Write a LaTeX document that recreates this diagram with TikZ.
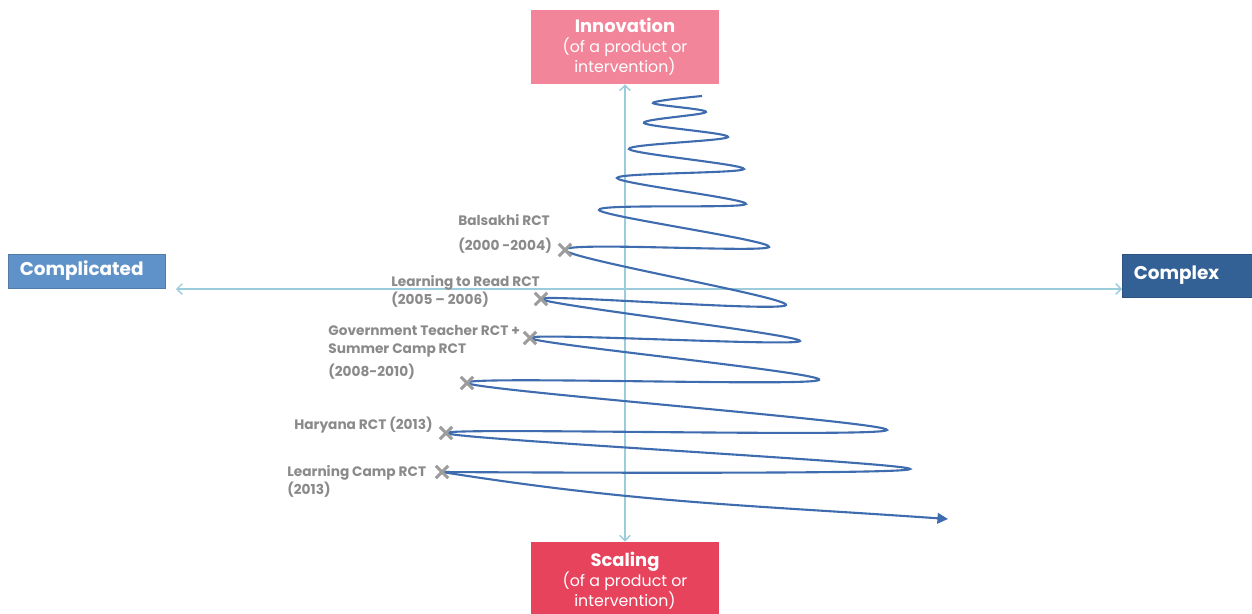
\documentclass[tikz,border=0pt]{standalone}
\usepackage{fontspec}
\setmainfont{Poppins}
\usepackage{tikz}
\usetikzlibrary{arrows.meta,shapes.misc}

\definecolor{innovpink}{HTML}{F2859A}
\definecolor{scalered}{HTML}{E8435D}
\definecolor{cmplblue}{HTML}{5F92C8}
\definecolor{cplxblue}{HTML}{336196}
\definecolor{axisblue}{HTML}{9ACCDB}
\definecolor{spiralblue}{HTML}{3E6CAE}
\definecolor{labelgray}{HTML}{8A8A8A}

\tikzset{
  topbox/.style={fill=#1, text=white, align=center, minimum width=3.78cm, inner sep=0pt,
    font=\fontsize{9}{11.3}\selectfont},
  sidebox/.style={fill=#1, draw=#1!85!black, line width=0.3pt, text=white, align=left,
    font=\bfseries\fontsize{10.5}{12}\selectfont, inner xsep=0.23cm, inner ysep=0pt, anchor=west},
  rctlabel/.style={text=labelgray, font=\bfseries\fontsize{7.8}{10.2}\selectfont,
    align=left, anchor=west, inner sep=0pt},
  rctmark/.style={cross out, draw=labelgray!85, line width=1.8pt, minimum size=5.2pt, inner sep=0pt},
  axis/.style={axisblue, line width=0.8pt,
    {Straight Barb[length=3pt,width=6pt]}-{Straight Barb[length=3pt,width=6pt]}},
  spiral/.style={spiralblue, line width=1.2pt}
}

\begin{document}
\begin{tikzpicture}[x=0.02cm, y=-0.02cm]
  \useasboundingbox (0,0) rectangle (1252,613);

  % Innowacja i skalowanie
  \node[topbox=innovpink, minimum height=1.48cm] (innov) at (625,47)
    {{\bfseries\fontsize{10.2}{11.3}\selectfont Innovation}\\(of a product or\\intervention)};
  \node[topbox=scalered, minimum height=1.56cm] (scal) at (625,581)
    {{\bfseries\fontsize{10.2}{11.3}\selectfont Scaling}\\(of a product or\\intervention)};

  % Boki
  \node[sidebox=cmplblue, text width=2.68cm, minimum height=0.68cm] (cmpl) at (8,271) {Complicated};
  \node[sidebox=cplxblue, text width=2.6cm, minimum height=0.86cm] (cplx) at (1122,275.5) {Complex};

  % Osie
  \coordinate (axL) at (176,289);
  \draw[axis] (axL) -- (cplx.west |- axL);
  \draw[axis] (innov.south) -- (scal.north);

  % Spirala
  \coordinate (c1) at (565,250);
  \coordinate (c2) at (541,299);
  \coordinate (c3) at (530,338);
  \coordinate (c4) at (467,383);
  \coordinate (c5) at (446,433);
  \coordinate (c6) at (442,472);
  \coordinate (tip) at (948,519);
  \draw[spiral] plot[smooth, tension=0.55] coordinates {(702,96) (653,103) (706,112) (644,123)
    (728,137) (629,149) (744,169) (617,178) (746,204) (599,210) (769,247) (c1) (786,305) (c2)
    (800,341) (c3) (819,380) (c4) (887,430) (c5) (910,469) (c6)};
  \draw[spiral, -{Triangle[length=6pt,width=6pt]}] (c6) to[out=-9, in=176] (tip);

  % Badania RCT
  \foreach \i in {1,...,6}
    \node[rctmark] (m\i) at (c\i) {};
  \node[rctlabel] (bal) at (458,233.5) {Balsakhi RCT\\[4pt](2000 -2004)};
  \node[rctlabel] (ltr) at (391,291.5) {Learning to Read RCT\\(2005 -- 2006)};
  \node[rctlabel] (gov) at (328,352.5) {Government Teacher RCT +\\Summer Camp RCT\\[3pt](2008-2010)};
  \node[rctlabel] (har) at (294,425) {Haryana RCT (2013)};
  \node[rctlabel] (lcamp) at (287,481.5) {Learning Camp RCT\\(2013)};
\end{tikzpicture}
\end{document}
